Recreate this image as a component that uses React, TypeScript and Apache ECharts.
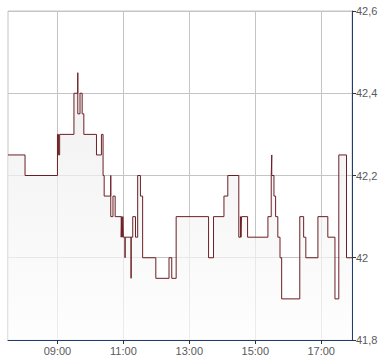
import React, { useEffect, useRef } from 'react';
import * as echarts from 'echarts';

// Step changes: time at which each price starts
const times = [
  '07:30', '08:01', '09:00', '09:02', '09:04', '09:30', '09:37', '09:37', '09:41', '09:45',
  '09:48', '10:11', '10:20', '10:23', '10:25', '10:37', '10:37', '10:41', '10:45', '10:56',
  '10:57', '10:58', '10:59', '11:00', '11:03', '11:03', '11:14', '11:14', '11:17', '11:22',
  '11:26', '11:31', '11:35', '11:59', '12:23', '12:28', '12:36', '13:35', '13:44', '14:03',
  '14:10', '14:30', '14:33', '14:34', '14:35', '14:46', '15:23', '15:29', '15:30', '15:30',
  '15:34', '15:37', '15:41', '15:45', '15:48', '16:21', '16:28', '16:32', '16:54', '17:12',
  '17:25', '17:32', '17:46',
];
const prices = [
  42.25, 42.2, 42.3, 42.25, 42.3, 42.4, 42.45, 42.35, 42.4, 42.35,
  42.3, 42.25, 42.3, 42.2, 42.15, 42.2, 42.1, 42.15, 42.1, 42.05,
  42.1, 42.05, 42.1, 42.05, 42.0, 42.05, 41.95, 42.05, 42.1, 42.05,
  42.2, 42.15, 42.0, 41.95, 42.0, 41.95, 42.1, 42.0, 42.1, 42.15,
  42.2, 42.05, 42.1, 42.05, 42.1, 42.05, 42.1, 42.2, 42.25, 42.2,
  42.15, 42.1, 42.05, 42.0, 41.9, 42.1, 42.05, 42.0, 42.1, 42.05,
  41.9, 42.25, 42.0,
];
const startTime = '07:30';
const endTime = '17:56';
const xTickLabels = ['09:00', '11:00', '13:00', '15:00', '17:00'];
const yMin = 41.8;
const yMax = 42.6;
const yStep = 0.2;

const toMin = (s: string) => {
  const [h, m] = s.split(':').map(Number);
  return h * 60 + m;
};
const fmtTime = (v: number) => {
  const h = Math.floor(v / 60);
  const m = Math.round(v % 60);
  return `${String(h).padStart(2, '0')}:${String(m).padStart(2, '0')}`;
};

export default function App() {
  const ref = useRef<HTMLDivElement>(null);
  useEffect(() => {
    const chart = echarts.init(ref.current!, null, { renderer: 'svg' });
    const data: [number, number][] = times.map((t, i) => [toMin(t), prices[i]]);
    data.push([toMin(endTime), prices[prices.length - 1]]);
    const tickVals = xTickLabels.map(toMin);
    const axisColor = '#1f3b6f';
    const gridColor = '#c4c4c4';
    const labelStyle = { color: '#5a5a5a', fontSize: 11, fontFamily: 'Liberation Sans, Arial, sans-serif' };
    chart.setOption({
      animation: false,
      grid: {
        left: 8, top: 11, right: 38, bottom: 24,
        show: true, borderColor: gridColor, borderWidth: 1, backgroundColor: 'transparent',
      },
      xAxis: {
        type: 'value',
        min: toMin(startTime),
        max: toMin(endTime),
        axisLine: { show: true, lineStyle: { color: axisColor, width: 1 } },
        axisTick: { show: true, customValues: tickVals, length: 4, lineStyle: { color: '#333' } },
        axisLabel: { ...labelStyle, customValues: tickVals, formatter: (v: number) => fmtTime(v), margin: 5 },
        splitLine: { show: true, lineStyle: { color: gridColor, width: 1 } },
      },
      yAxis: {
        type: 'value',
        position: 'right',
        min: yMin,
        max: yMax,
        interval: yStep,
        axisLine: { show: true, lineStyle: { color: axisColor, width: 1 } },
        axisTick: { show: true, length: 4, lineStyle: { color: '#333' } },
        axisLabel: {
          ...labelStyle,
          margin: 4,
          formatter: (v: number) => String(+v.toFixed(1)).replace('.', ','),
        },
        splitLine: { show: true, lineStyle: { color: gridColor, width: 1 } },
      },
      series: [
        {
          type: 'line',
          step: 'end',
          data,
          symbol: 'none',
          lineStyle: { color: '#6b1f24', width: 1 },
          areaStyle: {
            origin: 'start',
            color: new echarts.graphic.LinearGradient(0, 0, 0, 1, [
              { offset: 0, color: '#ebebeb' },
              { offset: 1, color: '#fdfdfd' },
            ]),
          },
        },
      ],
    });
    return () => chart.dispose();
  }, []);
  return <div ref={ref} style={{ position: 'absolute', left: 0, top: 0, width: 390, height: 364 }} />;
}
